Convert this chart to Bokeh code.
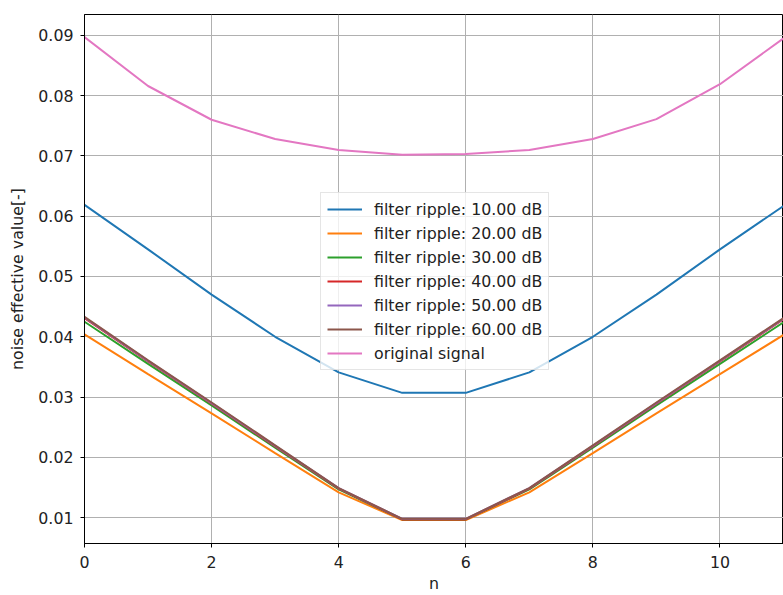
from bokeh.plotting import figure
from bokeh.models import Range1d, FixedTicker, PrintfTickFormatter, Legend, LegendItem
from bokeh.embed import file_html
from bokeh.resources import INLINE

n = list(range(12))
ripple_10 = [0.0619, 0.0545, 0.0470, 0.0400, 0.0341, 0.0307, 0.0307, 0.0341, 0.0400, 0.0470, 0.0545, 0.0617]
ripple_20 = [0.0404, 0.0338, 0.0273, 0.0207, 0.0142, 0.0096, 0.0096, 0.0142, 0.0207, 0.0273, 0.0338, 0.0403]
ripple_30 = [0.0425, 0.0355, 0.0286, 0.0216, 0.0147, 0.0097, 0.0097, 0.0147, 0.0216, 0.0286, 0.0355, 0.0424]
ripple_40 = [0.0431, 0.0359, 0.0289, 0.0218, 0.0148, 0.0097, 0.0097, 0.0148, 0.0218, 0.0289, 0.0359, 0.0429]
ripple_50 = [0.0432, 0.0360, 0.0290, 0.0219, 0.0149, 0.0098, 0.0098, 0.0149, 0.0219, 0.0290, 0.0360, 0.0430]
ripple_60 = [0.0433, 0.0361, 0.0291, 0.0220, 0.0149, 0.0098, 0.0098, 0.0149, 0.0220, 0.0291, 0.0361, 0.0431]
original = [0.0897, 0.0816, 0.0760, 0.0728, 0.0710, 0.0702, 0.0703, 0.0710, 0.0728, 0.0761, 0.0819, 0.0895]

series = [ripple_10, ripple_20, ripple_30, ripple_40, ripple_50, ripple_60, original]
labels = ["filter ripple: 10.00 dB", "filter ripple: 20.00 dB", "filter ripple: 30.00 dB",
          "filter ripple: 40.00 dB", "filter ripple: 50.00 dB", "filter ripple: 60.00 dB",
          "original signal"]
colors = ["#1f77b4", "#ff7f0e", "#2ca02c", "#d62728", "#9467bd", "#8c564b", "#e377c2"]

x_ticks = [0, 2, 4, 6, 8, 10]
y_ticks = [0.01, 0.02, 0.03, 0.04, 0.05, 0.06, 0.07, 0.08, 0.09]

FONT = "DejaVu Sans"
FS = "15.8px"

p = figure(width=783, height=595, output_backend="svg", toolbar_location=None,
           x_range=Range1d(0, 11), y_range=Range1d(0.00571, 0.09346),
           min_border_left=84, min_border_right=0, min_border_top=14, min_border_bottom=49)

p.outline_line_color = "black"
p.outline_line_width = 1
p.background_fill_color = "white"
p.border_fill_color = "white"

items = []
for ys, lab, c in zip(series, labels, colors):
    r = p.line(n, ys, line_color=c, line_width=2)
    items.append(LegendItem(label=lab, renderers=[r]))

p.xaxis.ticker = FixedTicker(ticks=x_ticks)
p.yaxis.ticker = FixedTicker(ticks=y_ticks)
p.yaxis.formatter = PrintfTickFormatter(format="%.2f")

for ax in (p.xaxis[0], p.yaxis[0]):
    ax.axis_line_color = "black"
    ax.major_tick_line_color = "black"
    ax.major_tick_out = 4
    ax.major_tick_in = 0
    ax.minor_tick_line_color = None
    ax.major_label_text_font = FONT
    ax.major_label_text_font_size = FS
    ax.major_label_text_color = "#222222"
    ax.axis_label_text_font = FONT
    ax.axis_label_text_font_size = FS
    ax.axis_label_text_font_style = "normal"
    ax.axis_label_text_color = "#222222"
    ax.major_label_standoff = 7

p.xaxis.major_label_standoff = 8
p.xaxis.axis_label = "n"
p.xaxis.axis_label_standoff = 3
p.yaxis.axis_label = "noise effective value[-]"
p.yaxis.axis_label_standoff = 8

p.xgrid.grid_line_color = "#b0b0b0"
p.ygrid.grid_line_color = "#b0b0b0"
p.xgrid.grid_line_width = 1
p.ygrid.grid_line_width = 1

legend = Legend(items=items, location=(236, 173))
legend.label_text_font = FONT
legend.label_text_font_size = FS
legend.label_text_color = "#222222"
legend.glyph_width = 35
legend.glyph_height = 20
legend.label_height = 20
legend.label_standoff = 12
legend.spacing = 4
legend.padding = 6
legend.margin = 0
legend.border_line_color = "#cccccc"
legend.border_line_width = 1
legend.background_fill_color = "white"
legend.background_fill_alpha = 0.8
p.add_layout(legend, "center")

open("out.html", "w").write(file_html(p, INLINE))
